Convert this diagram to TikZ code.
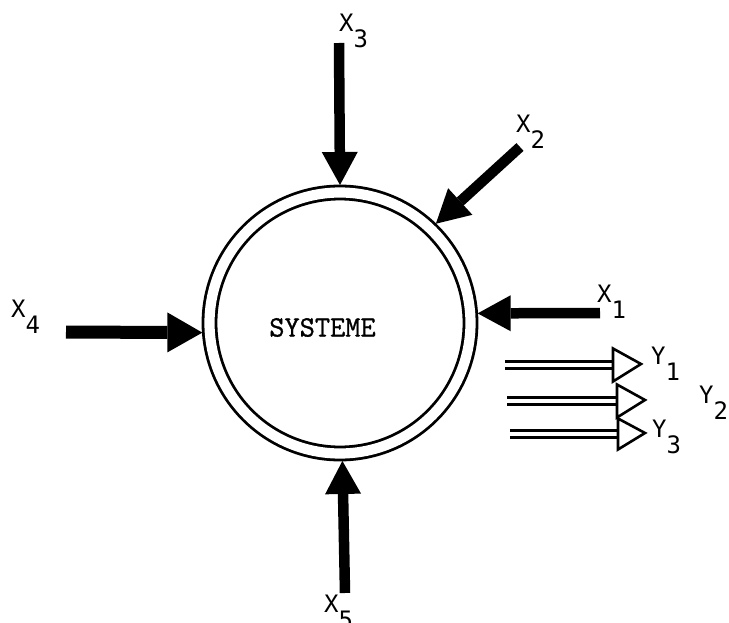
\documentclass[tikz,border=0pt]{standalone}
\usepackage{fontspec}
\usetikzlibrary{arrows.meta,calc}
\newfontfamily\labfont{DejaVu Sans Mono}
\newfontfamily\sysfont[FakeBold=1]{Latin Modern Mono}
\newcommand\sublab[2]{#1\raisebox{-16pt}{#2}}
\tikzset{
  sysring/.style={draw, circle, line width=2.8pt, double, double distance=10.2pt,
    minimum size=261pt, inner sep=0pt, outer sep=7.5pt},
  inarrow/.style={line width=10.5pt, -{Triangle[length=33pt,width=36pt,line width=0pt]}},
  inarrowbig/.style={line width=13pt, -{Triangle[length=35pt,width=40pt,line width=0pt]}},
  outshaft/.style={line width=2.6pt, double, double distance=4pt},
  outhead/.style={line width=2.6pt, line join=miter},
  lab/.style={inner sep=0pt, anchor=base west, font=\labfont\fontsize{24}{24}\selectfont},
  systext/.style={inner sep=0pt, font=\sysfont\fontsize{29.5}{29.5}\selectfont}
}
\begin{document}
\begin{tikzpicture}[x=1pt,y=-1pt]
\path[use as bounding box, fill=white] (0,0) rectangle (729,623);

\node[sysring] (sys) at (340,323) {};
\node[systext] (systxt) at (322.5,327.5) {SYSTEME};

% inputs
\coordinate (x3s) at (339,43);
\coordinate (x2s) at (520,147);
\coordinate (x1s) at (600,313);
\coordinate (x4s) at (66,332);
\coordinate (x5s) at (345,593);
\draw[inarrow] (x3s) -- (sys.90);
\draw[inarrow] (x2s) -- (sys.46);
\draw[inarrow] (x1s) -- (sys.4);
\draw[inarrowbig] (x4s) -- (sys.184);
\draw[inarrow] (x5s) -- (sys.271);

% input labels
\node[lab] (lx3) at (339,32) {\sublab{X}{3}};
\node[lab] (lx2) at (516,133) {\sublab{X}{2}};
\node[lab] (lx1) at (597,302) {\sublab{X}{1}};
\node[lab] (lx4) at (11,317) {\sublab{X}{4}};
\node[lab] (lx5) at (324,612) {\sublab{X}{5}};

% outputs
\coordinate (y1s) at (505,365);
\coordinate (y1b) at (613,365);
\coordinate (y1t) at (641,364);
\coordinate (y2s) at (507,401);
\coordinate (y2b) at (617,401);
\coordinate (y2t) at (645,400);
\coordinate (y3s) at (510,434);
\coordinate (y3b) at (618,434);
\coordinate (y3t) at (645,433);
\draw[outshaft] (y1s) -- (y1b);
\draw[outshaft] (y2s) -- (y2b);
\draw[outshaft] (y3s) -- (y3b);
\draw[outhead] ($(y1b)+(0,-16.5)$) -- (y1t) -- ($(y1b)+(0,16.5)$) -- cycle;
\draw[outhead] ($(y2b)+(0,-16.5)$) -- (y2t) -- ($(y2b)+(0,16.5)$) -- cycle;
\draw[outhead] ($(y3b)+(0,-15.5)$) -- (y3t) -- ($(y3b)+(0,15.5)$) -- cycle;

% output labels
\node[lab] (ly1) at (651,364) {\sublab{Y}{1}};
\node[lab] (ly2) at (699,403) {\sublab{Y}{2}};
\node[lab] (ly3) at (652,437) {\sublab{Y}{3}};
\end{tikzpicture}
\end{document}
